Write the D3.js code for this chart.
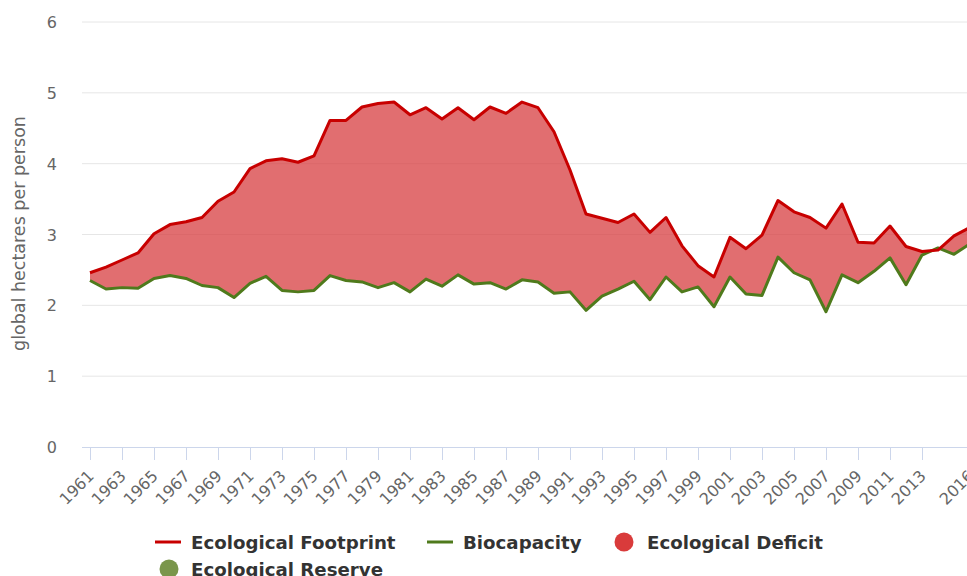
<!DOCTYPE html>
<html>
<head>
<meta charset="utf-8">
<script src="https://d3js.org/d3.v7.min.js"></script>
<style>
  body { margin: 0; background: #fff; }
  svg { display: block; }
</style>
</head>
<body>
<script>
// data, one value per year 1961..2016
var years = d3.range(1961, 2017)
var footprint = [2.46, 2.54, 2.64, 2.74, 3.01, 3.14, 3.18, 3.24, 3.47, 3.60,
  3.93, 4.04, 4.07, 4.02, 4.11, 4.61, 4.61, 4.80, 4.85, 4.87,
  4.69, 4.79, 4.63, 4.79, 4.62, 4.80, 4.71, 4.87, 4.79, 4.45,
  3.91, 3.29, 3.23, 3.17, 3.29, 3.03, 3.24, 2.84, 2.56, 2.40,
  2.96, 2.80, 2.99, 3.48, 3.32, 3.24, 3.09, 3.43, 2.89, 2.88,
  3.12, 2.83, 2.76, 2.78, 2.98, 3.10]
var biocapacity = [2.35, 2.23, 2.25, 2.24, 2.38, 2.42, 2.38, 2.28, 2.25, 2.11,
  2.31, 2.41, 2.21, 2.19, 2.21, 2.42, 2.35, 2.33, 2.25, 2.32,
  2.19, 2.37, 2.27, 2.43, 2.30, 2.32, 2.23, 2.36, 2.33, 2.17,
  2.19, 1.93, 2.13, 2.23, 2.34, 2.08, 2.40, 2.19, 2.26, 1.98,
  2.40, 2.16, 2.14, 2.68, 2.46, 2.36, 1.91, 2.43, 2.32, 2.48,
  2.67, 2.29, 2.71, 2.81, 2.72, 2.87]
var xTicks = [1961, 1963, 1965, 1967, 1969, 1971, 1973, 1975, 1977, 1979, 1981,
  1983, 1985, 1987, 1989, 1991, 1993, 1995, 1997, 1999, 2001, 2003, 2005,
  2007, 2009, 2011, 2013, 2016]
var yTicks = [0, 1, 2, 3, 4, 5, 6]
var legendItems = ["Ecological Footprint", "Biocapacity", "Ecological Deficit", "Ecological Reserve"]

var width = 967
var height = 576

var data = years.map(function(y, i) {
  return { year: y, fp: footprint[i], bio: biocapacity[i] }
})

var svg = d3.select("body")
  .append("svg")
    .attr("width", width)
    .attr("height", height)
    .style("font-family", "'DejaVu Sans', sans-serif")

// plot runs past the right edge, like the cropped original
var x = d3.scaleLinear().domain([1961, 2016]).range([90, 970])
var y = d3.scaleLinear().domain([0, 6]).range([447, 22])

// grid lines
svg.append("g")
  .selectAll("line")
  .data(yTicks.filter(function(d){ return d > 0 }))
  .enter()
  .append("line")
    .attr("x1", 82)
    .attr("x2", width)
    .attr("y1", function(d){ return y(d) })
    .attr("y2", function(d){ return y(d) })
    .attr("stroke", "#e6e6e6")
    .attr("stroke-width", 1)

// y tick labels
svg.append("g")
  .selectAll("text")
  .data(yTicks)
  .enter()
  .append("text")
    .attr("x", 57)
    .attr("y", function(d){ return y(d) + 6 })
    .attr("text-anchor", "end")
    .style("font-size", "16px")
    .style("fill", "#666")
    .text(function(d){ return d })

// y axis title
svg.append("text")
  .attr("transform", "translate(25," + (y(3) - 1) + ") rotate(-90)")
  .attr("text-anchor", "middle")
  .style("font-size", "17.5px")
  .style("fill", "#666")
  .text("global hectares per person")

// difference areas: clip each side against the other line
var areaBelowFp = d3.area().x(function(d){ return x(d.year) }).y0(y(0)).y1(function(d){ return y(d.fp) })
var areaAboveFp = d3.area().x(function(d){ return x(d.year) }).y0(y(6)).y1(function(d){ return y(d.fp) })
var areaBelowBio = d3.area().x(function(d){ return x(d.year) }).y0(y(0)).y1(function(d){ return y(d.bio) })
var areaAboveBio = d3.area().x(function(d){ return x(d.year) }).y0(y(6)).y1(function(d){ return y(d.bio) })

var defs = svg.append("defs")
defs.append("clipPath").attr("id", "clipBelowFp")
  .append("path").attr("d", areaBelowFp(data))
defs.append("clipPath").attr("id", "clipBelowBio")
  .append("path").attr("d", areaBelowBio(data))

// deficit: between bio and footprint where footprint is higher
svg.append("path")
  .attr("d", areaAboveBio(data))
  .attr("clip-path", "url(#clipBelowFp)")
  .style("fill", "#d73c3e")
  .style("fill-opacity", 0.74)

// reserve: where biocapacity is higher
svg.append("path")
  .attr("d", areaAboveFp(data))
  .attr("clip-path", "url(#clipBelowBio)")
  .style("fill", "#7a964b")
  .style("fill-opacity", 0.74)

// x axis line and ticks
svg.append("line")
  .attr("x1", 82)
  .attr("x2", width)
  .attr("y1", y(0) + 0.5)
  .attr("y2", y(0) + 0.5)
  .attr("stroke", "#ccd6eb")
  .attr("stroke-width", 1)

var xt = svg.append("g")
  .selectAll("g")
  .data(xTicks)
  .enter()
  .append("g")

xt.append("line")
  .attr("x1", function(d){ return x(d) + 0.5 })
  .attr("x2", function(d){ return x(d) + 0.5 })
  .attr("y1", y(0))
  .attr("y2", y(0) + 13)
  .attr("stroke", "#ccd6eb")

xt.append("text")
  .attr("transform", function(d){ return "translate(" + (x(d) + 5) + "," + 477 + ") rotate(-45)" })
  .attr("text-anchor", "end")
  .style("font-size", "16px")
  .style("fill", "#666")
  .text(function(d){ return d })

// lines
var lineFp = d3.line().x(function(d){ return x(d.year) }).y(function(d){ return y(d.fp) })
var lineBio = d3.line().x(function(d){ return x(d.year) }).y(function(d){ return y(d.bio) })

svg.append("path")
  .attr("d", lineBio(data))
  .style("fill", "none")
  .style("stroke", "#4f7a1c")
  .style("stroke-width", 3)
  .style("stroke-linejoin", "round")

svg.append("path")
  .attr("d", lineFp(data))
  .style("fill", "none")
  .style("stroke", "#c80000")
  .style("stroke-width", 3)
  .style("stroke-linejoin", "round")

// legend
var legendPos = [
  { sx: 155, tx: 191, cy: 542, kind: "line", color: "#c80000" },
  { sx: 427, tx: 463, cy: 542, kind: "line", color: "#4f7a1c" },
  { sx: 624, tx: 647, cy: 542, kind: "dot", color: "#d93b3b" },
  { sx: 169, tx: 191, cy: 569, kind: "dot", color: "#7a964b" }
]

var legend = svg.append("g")
  .selectAll("g")
  .data(legendItems)
  .enter()
  .append("g")

legend.each(function(d, i) {
  var p = legendPos[i]
  var g = d3.select(this)
  if (p.kind == "line") {
    g.append("line")
      .attr("x1", p.sx).attr("x2", p.sx + 26)
      .attr("y1", p.cy).attr("y2", p.cy)
      .attr("stroke", p.color)
      .attr("stroke-width", 3)
  } else {
    g.append("circle")
      .attr("cx", p.sx).attr("cy", p.cy)
      .attr("r", 9.5)
      .style("fill", p.color)
  }
  g.append("text")
    .attr("x", p.tx)
    .attr("y", p.cy + 6.5)
    .style("font-size", "18.2px")
    .style("font-weight", "bold")
    .style("fill", "#333")
    .text(d)
})
</script>
</body>
</html>
